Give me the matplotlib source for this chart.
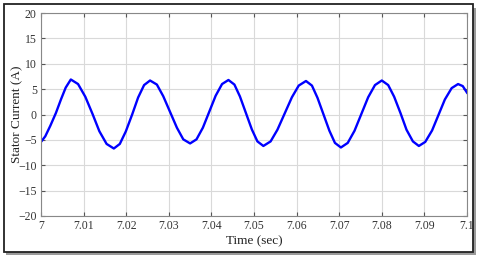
import matplotlib
matplotlib.use("Agg")
import matplotlib.pyplot as plt
from matplotlib.patches import Rectangle

# Data (time in s, current in A)
time_s = [7.0000, 7.0010, 7.0022, 7.0035, 7.0047, 7.0058, 7.0070,
          7.0087, 7.0104, 7.0121, 7.0137, 7.0154, 7.0171,
          7.0185, 7.0199, 7.0214, 7.0228, 7.0242, 7.0256,
          7.0272, 7.0287, 7.0303, 7.0319, 7.0334, 7.0350,
          7.0365, 7.0380, 7.0395, 7.0410, 7.0425, 7.0440,
          7.0454, 7.0467, 7.0481, 7.0495, 7.0508, 7.0522,
          7.0539, 7.0555, 7.0572, 7.0589, 7.0605, 7.0622,
          7.0636, 7.0649, 7.0663, 7.0677, 7.0690, 7.0704,
          7.0720, 7.0736, 7.0752, 7.0768, 7.0784, 7.0800,
          7.0815, 7.0829, 7.0844, 7.0858, 7.0873, 7.0887,
          7.0902, 7.0918, 7.0933, 7.0948, 7.0964, 7.0979,
          7.0990, 7.1000]
current_a = [-5.4, -4.3, -2.2, 0.3, 3.0, 5.3, 6.9,
             6.0, 3.5, 0.1, -3.3, -5.8, -6.7,
             -5.8, -3.35, 0.0, 3.35, 5.8, 6.7,
             5.9, 3.6, 0.5, -2.6, -4.9, -5.7,
             -4.9, -2.6, 0.55, 3.7, 6.0, 6.8,
             5.9, 3.55, 0.3, -2.95, -5.3, -6.2,
             -5.3, -3.0, 0.2, 3.4, 5.7, 6.6,
             5.7, 3.3, 0.05, -3.2, -5.6, -6.5,
             -5.6, -3.2, 0.1, 3.4, 5.8, 6.7,
             5.8, 3.5, 0.25, -3.0, -5.3, -6.2,
             -5.4, -3.15, -0.1, 2.95, 5.2, 6.0,
             5.6, 4.3]

xticks = [7.0, 7.01, 7.02, 7.03, 7.04, 7.05, 7.06, 7.07, 7.08, 7.09, 7.1]
xtick_labels = ["7", "7.01", "7.02", "7.03", "7.04", "7.05", "7.06", "7.07", "7.08", "7.09", "7.1"]
yticks = [-20, -15, -10, -5, 0, 5, 10, 15, 20]

plt.rcParams['font.family'] = ['Liberation Serif', 'DejaVu Serif']

fig = plt.figure(figsize=(4.8, 2.58), dpi=100)
# frame with shadow
fig.patches.append(Rectangle((6 / 480, 3 / 258), 470 / 480, 247 / 258, transform=fig.transFigure,
                             facecolor='#9a9a9a', edgecolor='none', zorder=-3))
fig.patches.append(Rectangle((4 / 480, 6 / 258), 469 / 480, 248 / 258, transform=fig.transFigure,
                             facecolor='white', edgecolor='#222222', linewidth=1.3, zorder=-2))

ax = fig.add_axes([41 / 480, 1 - 216 / 258, 426 / 480, 203 / 258])
ax.set_zorder(2)
ax.plot(time_s, current_a, color='#0000ff', linewidth=1.7, solid_joinstyle='round')
ax.set_xlim(7.0, 7.1)
ax.set_ylim(-20, 20)
ax.set_xticks(xticks)
ax.set_xticklabels(xtick_labels)
ax.set_yticks(yticks)
ax.grid(True, color='#d9d9d9', linewidth=0.8)
ax.set_axisbelow(True)
ax.tick_params(direction='in', top=True, right=True, labelsize=8.5, length=3,
               color='#555555', labelcolor='#333333', pad=3)
for s in ax.spines.values():
    s.set_color('#888888')
    s.set_linewidth(0.8)
ax.set_xlabel("Time (sec)", fontsize=9.5, color='#222222')
ax.set_ylabel("Stator Current (A)", fontsize=9.5, color='#222222')
ax.yaxis.set_label_coords(-18 / 426, 0.5)
ax.xaxis.set_label_coords(0.5, -19 / 203)

fig.savefig("out.png", dpi=100)
